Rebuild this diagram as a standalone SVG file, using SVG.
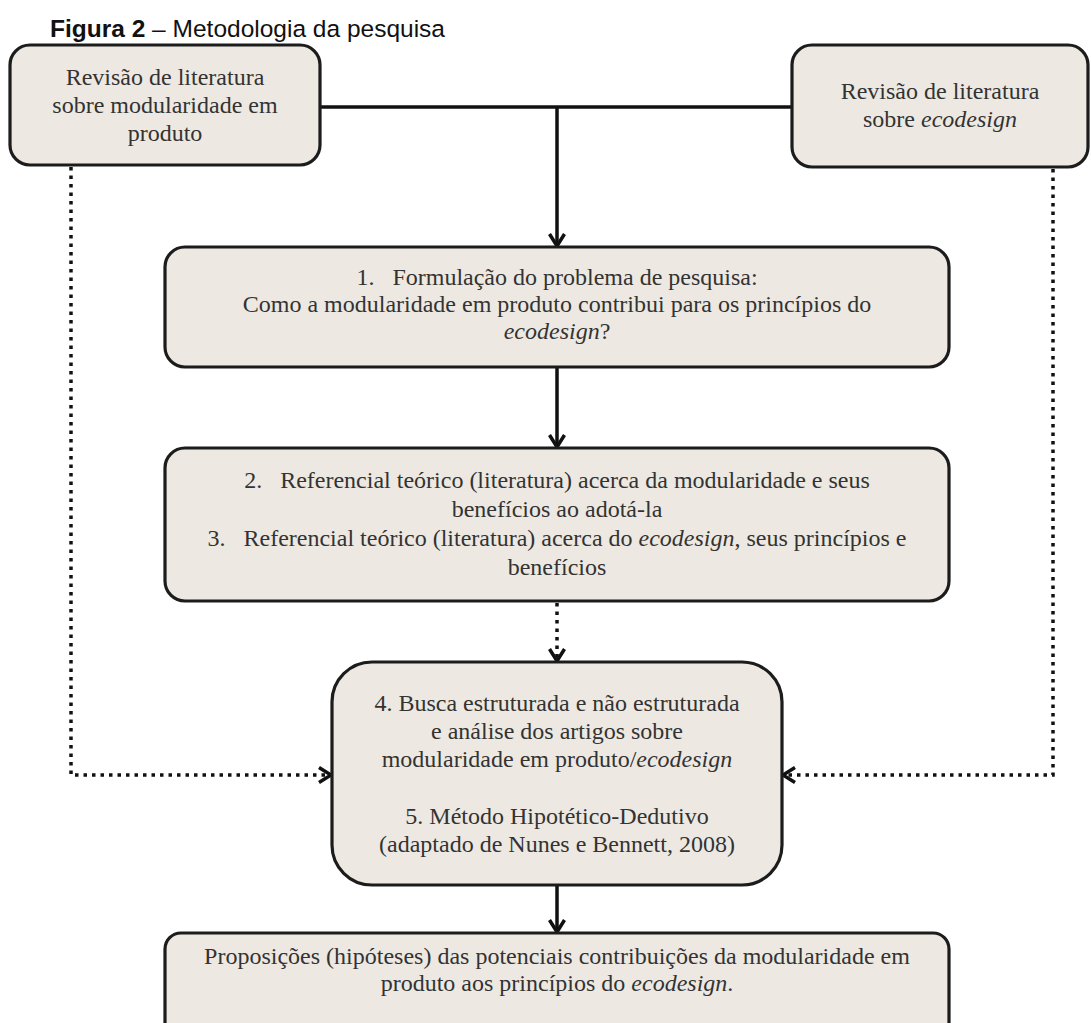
<svg xmlns="http://www.w3.org/2000/svg" width="1091" height="1023" viewBox="0 0 1091 1023">
<style>
.box{fill:#ede9e2;stroke:#1c1c1c;stroke-width:3.2}
.t{font-family:"Liberation Serif","Times New Roman",serif;font-size:24px;fill:#333;text-anchor:middle}
.i{font-style:italic}
.ln{fill:none;stroke:#111;stroke-width:3.5}
.dot{fill:none;stroke:#111;stroke-width:3.5;stroke-dasharray:3.5 5}
.title{font-family:"Liberation Sans",Arial,sans-serif;font-size:24.5px;fill:#111}
</style>
<defs>
<marker id="arr" viewBox="0 0 16 18" refX="14" refY="9" markerWidth="16" markerHeight="18" markerUnits="userSpaceOnUse" orient="auto">
<path d="M2,1.5 L14,9 L2,16.5" fill="none" stroke="#111" stroke-width="3.5"/>
</marker>
</defs>
<rect width="1091" height="1023" fill="#fff"/>
<text class="title" x="50" y="37"><tspan font-weight="bold">Figura 2</tspan> – Metodologia da pesquisa</text>

<g id="connectors">
<path class="ln" d="M320,107 H792"/>
<path class="ln" d="M557,107 V246" marker-end="url(#arr)"/>
<path class="ln" d="M557,367 V447" marker-end="url(#arr)"/>
<path class="dot" d="M557,603 V661" marker-end="url(#arr)"/>
<path class="dot" d="M71,167 V775 H331" marker-end="url(#arr)"/>
<path class="dot" d="M1053,169 V775 H783" marker-end="url(#arr)"/>
<path class="ln" d="M557,885 V932" marker-end="url(#arr)"/>
</g>

<g id="n-rev-mod">
<rect class="box" x="10" y="45" width="310" height="120" rx="20"/>
<text class="t" x="165" y="85">Revisão de literatura</text>
<text class="t" x="165" y="113">sobre modularidade em</text>
<text class="t" x="165" y="141">produto</text>
</g>

<g id="n-rev-eco">
<rect class="box" x="792" y="45" width="296" height="122" rx="20"/>
<text class="t" x="940" y="99">Revisão de literatura</text>
<text class="t" x="940" y="127">sobre <tspan class="i">ecodesign</tspan></text>
</g>

<g id="n-1">
<rect class="box" x="165" y="247" width="784" height="120" rx="20"/>
<text class="t" x="557" y="285" xml:space="preserve">1.   Formulação do problema de pesquisa:</text>
<text class="t" x="557" y="312">Como a modularidade em produto contribui para os princípios do</text>
<text class="t" x="557" y="339"><tspan class="i">ecodesign</tspan>?</text>
</g>

<g id="n-2-3">
<rect class="box" x="165" y="448" width="784" height="153" rx="20"/>
<text class="t" x="557" y="488" xml:space="preserve">2.   Referencial teórico (literatura) acerca da modularidade e seus</text>
<text class="t" x="557" y="517">benefícios ao adotá-la</text>
<text class="t" x="557" y="546" xml:space="preserve">3.   Referencial teórico (literatura) acerca do <tspan class="i">ecodesign</tspan>, seus princípios e</text>
<text class="t" x="557" y="575">benefícios</text>
</g>

<g id="n-4-5">
<rect class="box" x="332" y="662" width="450" height="223" rx="40"/>
<text class="t" x="557" y="711">4. Busca estruturada e não estruturada</text>
<text class="t" x="557" y="739">e análise dos artigos sobre</text>
<text class="t" x="557" y="767">modularidade em produto/<tspan class="i">ecodesign</tspan></text>
<text class="t" x="557" y="824">5. Método Hipotético-Dedutivo</text>
<text class="t" x="557" y="852">(adaptado de Nunes e Bennett, 2008)</text>
</g>

<g id="n-prop">
<rect class="box" x="165" y="933" width="784" height="110" rx="16"/>
<text class="t" x="557" y="964">Proposições (hipóteses) das potenciais contribuições da modularidade em</text>
<text class="t" x="557" y="991">produto aos princípios do <tspan class="i">ecodesign</tspan>.</text>
</g>
</svg>
